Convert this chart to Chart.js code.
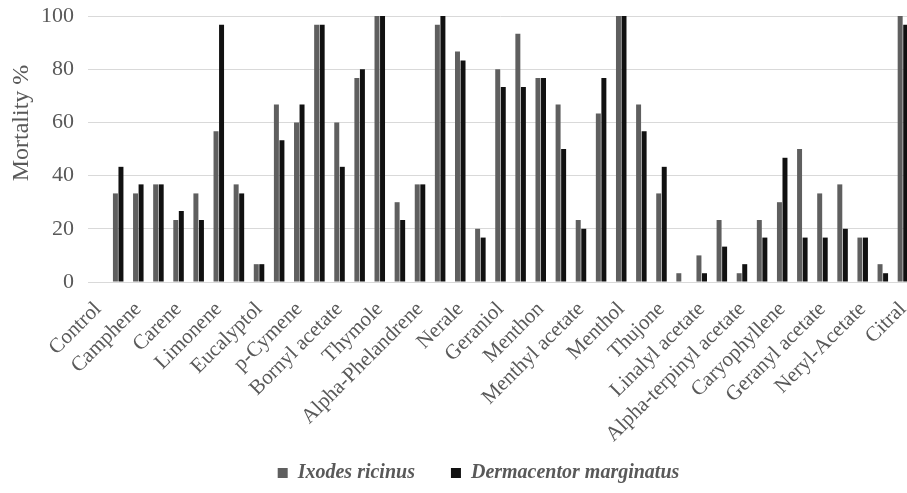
<!DOCTYPE html>
<html>
<head>
<meta charset="utf-8">
<script src="https://cdn.jsdelivr.net/npm/chart.js@4/dist/chart.umd.min.js"></script>
<style>
    html, body { margin: 0; padding: 0; background: #fff; overflow: hidden; }
    #wrap { width: 913px; height: 493px; }
</style>
</head>
<body>
<div id="wrap"><canvas id="barChart" width="913" height="493"></canvas></div>
<script>
// Compounds (only every other name is printed in the source figure)
const compounds = [
    'Control', '', 'Camphene', '', 'Carene', '', 'Limonene', '', 'Eucalyptol', '',
    'p-Cymene', '', 'Bornyl acetate', '', 'Thymole', '', 'Alpha-Phelandrene', '', 'Nerale', '',
    'Geraniol', '', 'Menthon', '', 'Menthyl acetate', '', 'Menthol', '', 'Thujone', '',
    'Linalyl acetate', '', 'Alpha-terpinyl acetate', '', 'Caryophyllene', '', 'Geranyl acetate', '', 'Neryl-Acetate', '',
    'Citral'
];

// Mortality %
const ixodes = [
    0, 33.3, 33.3, 36.7, 23.3, 33.3, 56.7, 36.7, 6.7, 66.7,
    60, 96.7, 60, 76.7, 100, 30, 36.7, 96.7, 86.7, 20,
    80, 93.3, 76.7, 66.7, 23.3, 63.3, 100, 66.7, 33.3, 3.3,
    10, 23.3, 3.3, 23.3, 30, 50, 33.3, 36.7, 16.7, 6.7,
    100
];
const dermacentor = [
    0, 43.3, 36.7, 36.7, 26.7, 23.3, 96.7, 33.3, 6.7, 53.3,
    66.7, 96.7, 43.3, 80, 100, 23.3, 36.7, 100, 83.3, 16.7,
    73.3, 73.3, 76.7, 50, 20, 76.7, 100, 56.7, 43.3, 0,
    3.3, 13.3, 6.7, 16.7, 46.7, 16.7, 16.7, 20, 16.7, 3.3,
    96.7
];

const yTicks = [0, 20, 40, 60, 80, 100];

const serif = "'Liberation Serif', 'Times New Roman', serif";
const textGray = '#595959';

// y axis title sits a bit above the middle of the axis in the original
const yTitlePlugin = {
    id: 'yTitle',
    afterDraw(chart) {
        const ctx = chart.ctx;
        ctx.save();
        ctx.translate(22, 123);
        ctx.rotate(-Math.PI / 2);
        ctx.font = '24px ' + serif;
        ctx.fillStyle = textGray;
        ctx.textAlign = 'center';
        ctx.textBaseline = 'middle';
        ctx.fillText('Mortality %', 0, 0);
        ctx.restore();
    }
};

// the legend in the original is a little right of centre and a bit higher;
// also let the long rotated labels run past the axis box
const layoutTweak = {
    id: 'layoutTweak',
    afterLayout(chart) {
        const lg = chart.legend;
        lg.left += 22;
        lg.right += 22;
        lg.top -= 15;
        chart.scales.x.bottom += 12;
    }
};

const ctx = document.getElementById('barChart').getContext('2d');
new Chart(ctx, {
    type: 'bar',
    data: {
        labels: compounds,
        datasets: [{
            label: 'Ixodes ricinus',
            data: ixodes,
            backgroundColor: '#5f5f5f'
        }, {
            label: 'Dermacentor marginatus',
            data: dermacentor,
            backgroundColor: '#111111'
        }]
    },
    options: {
        responsive: false,
        animation: false,
        layout: { padding: { top: 16, left: 0, right: 0, bottom: 0 } },
        datasets: {
            bar: { categoryPercentage: 0.55, barPercentage: 0.9 }
        },
        scales: {
            x: {
                grid: { display: false, drawTicks: false },
                border: { display: false },
                ticks: {
                    autoSkip: false,
                    minRotation: 45,
                    maxRotation: 45,
                    padding: 15,
                    color: textGray,
                    font: { family: serif, size: 21 }
                },
                afterFit(scale) {
                    scale.height = 160;
                    scale.paddingLeft = 0;
                    scale.paddingRight = 0;
                }
            },
            y: {
                min: 0,
                max: 100,
                afterBuildTicks(scale) {
                    scale.ticks = yTicks.map(v => ({ value: v }));
                },
                grid: { color: '#d9d9d9', lineWidth: 1, drawTicks: false },
                border: { display: false },
                ticks: {
                    padding: 14,
                    color: textGray,
                    font: { family: serif, size: 22 }
                },
                afterFit(scale) {
                    scale.width = 88;
                    scale.paddingTop = 0;
                    scale.paddingBottom = 0;
                }
            }
        },
        plugins: {
            legend: {
                position: 'bottom',
                maxHeight: 51,
                labels: {
                    boxWidth: 10,
                    boxHeight: 10,
                    padding: 36,
                    color: textGray,
                    font: { family: serif, size: 20, style: 'italic', weight: 'bold' }
                }
            },
            tooltip: { enabled: false }
        }
    },
    plugins: [yTitlePlugin, layoutTweak]
});
</script>
</body>
</html>
